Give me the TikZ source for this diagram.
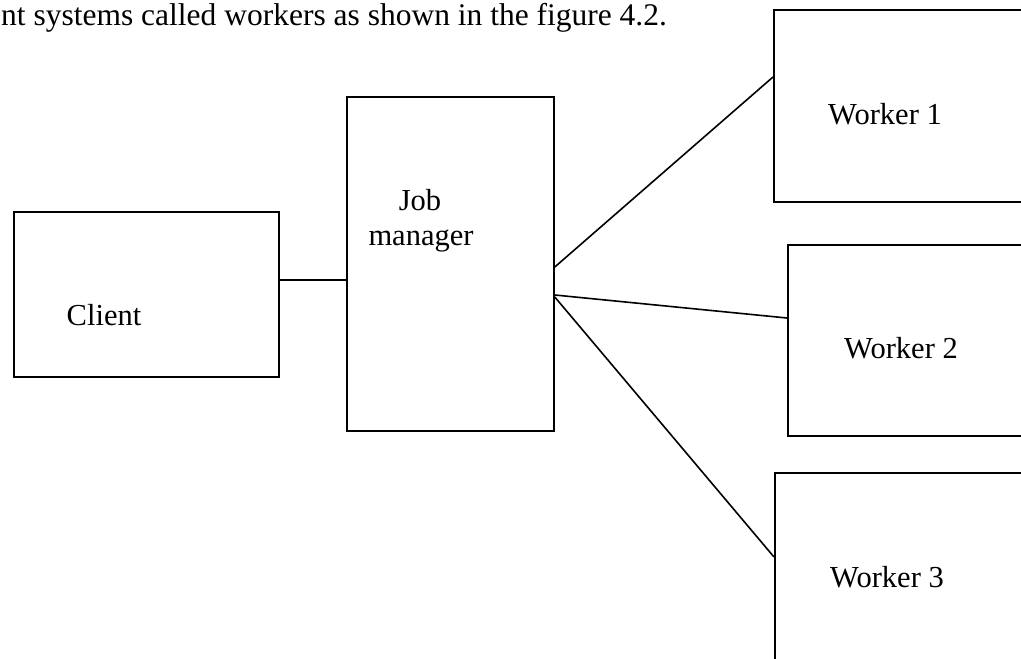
\documentclass[tikz,border=0pt]{standalone}
\usepackage{fontspec}
\setmainfont{Liberation Serif}
\begin{document}
\begin{tikzpicture}[x=1pt,y=-1pt,
  box/.style={draw=black,line width=1.8pt,fill=none,inner sep=0pt,anchor=north west},
  lbl/.style={anchor=base,inner sep=0pt,font=\fontsize{30.5}{36}\selectfont},
  wire/.style={draw=black,line width=1.6pt}]
\useasboundingbox (0,0) rectangle (1021,659);
\clip (0,0) rectangle (1021,659);

% running text above the figure
\node[lbl,anchor=base west,font=\fontsize{31.5}{37}\selectfont] (caption) at (1,25) {nt systems called workers as shown in the figure 4.2.};

% boxes
\node[box,minimum width=265pt,minimum height=165pt] (client) at (13,211) {};
\node[box,minimum width=207pt,minimum height=334pt] (jm) at (346,96) {};
\node[box,minimum width=300pt,minimum height=192pt] (w1) at (773,9) {};
\node[box,minimum width=300pt,minimum height=191pt] (w2) at (787,244) {};
\node[box,minimum width=300pt,minimum height=250pt] (w3) at (774,472) {};

% labels
\node[lbl] (tclient) at (104,325) {Client};
\node[lbl] (tjob) at (420,210) {Job};
\node[lbl] (tman) at (421,245) {manager};
\node[lbl] (tw1) at (885,124) {Worker 1};
\node[lbl] (tw2) at (901,358) {Worker 2};
\node[lbl] (tw3) at (887,587) {Worker 3};

% connectors
\draw[wire] (client.east |- {(0,280)}) -- (jm.west |- {(0,280)});
\draw[wire] (jm.east |- {(0,267)}) -- (w1.west |- {(0,77)});
\draw[wire] (jm.east |- {(0,295)}) -- (w2.west |- {(0,318)});
\draw[wire] (jm.east |- {(0,297)}) -- (w3.west |- {(0,557)});
\end{tikzpicture}
\end{document}
